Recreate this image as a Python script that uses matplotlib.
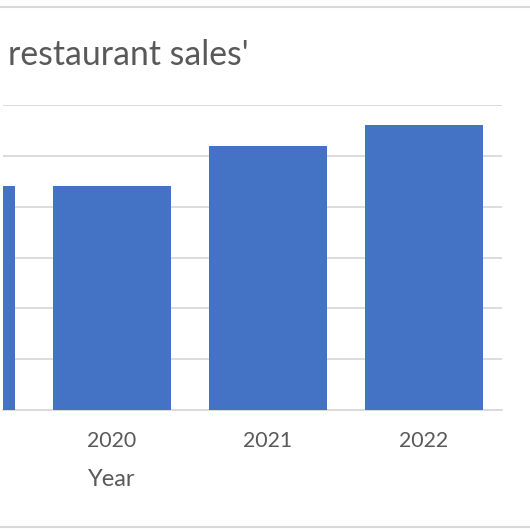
import matplotlib.pyplot as plt
from matplotlib.lines import Line2D
import matplotlib.transforms as mtransforms

plt.rcParams["font.family"] = ["Lato", "DejaVu Sans"]

# Yearly restaurant sales
years = ["2019", "2020", "2021", "2022"]
sales = [4.41, 4.41, 5.20, 5.61]
y_ticks = [0, 1, 2, 3, 4, 5, 6]

bar_color = "#4472C4"
grid_color = "#D9D9D9"
text_color = "#595959"

W, H = 530, 529
fig = plt.figure(figsize=(W / 100, H / 100), dpi=100)
ax = fig.add_axes([3 / W, (H - 410) / H, 499 / W, 305 / H])

x = list(range(len(years)))
ax.bar(x, sales, width=0.755, color=bar_color, zorder=3)

ax.set_yticks(y_ticks)
ax.set_yticklabels([])
ax.set_xticks(x)
ax.set_xticklabels(years, fontsize=15.3, color=text_color)
# limits after the ticks so the view is not widened again
ax.set_xlim(3.5 - 499 / 156, 3.5)
ax.set_ylim(y_ticks[0], y_ticks[-1])
ax.tick_params(axis="both", length=0)
ax.tick_params(axis="x", pad=15)
ax.grid(axis="y", color=grid_color, linewidth=1.3, zorder=0)
for side in ["top", "right", "left"]:
    ax.spines[side].set_visible(False)
ax.spines["bottom"].set_color(grid_color)
ax.spines["bottom"].set_linewidth(1.3)

# Axis title sits under the 2020 label
trans = mtransforms.blended_transform_factory(ax.transData, fig.transFigure)
ax.text(1, 1 - 480 / H, "Year", transform=trans, ha="center", va="center",
        fontsize=17, color=text_color)

fig.text(8 / W, 1 - 55 / H, "restaurant sales'", ha="left", va="center",
         fontsize=24.3, color=text_color)

# Chart frame lines at top and bottom
for yy in [7, 527]:
    fig.add_artist(Line2D([0, 1], [1 - yy / H, 1 - yy / H], color=grid_color,
                          linewidth=1.5, transform=fig.transFigure))

fig.savefig("out.png", dpi=100)
